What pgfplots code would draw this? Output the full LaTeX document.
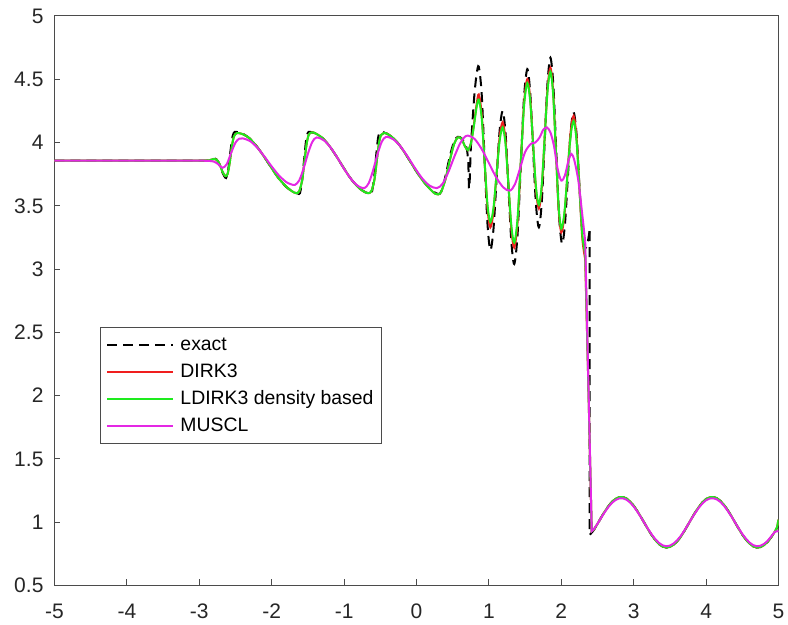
\documentclass[border=0pt]{standalone}
\usepackage{pgfplots}
\pgfplotsset{compat=1.18}
\usepackage{fontspec}
\setmainfont{Liberation Sans}
\definecolor{cred}{RGB}{240,30,30}
\definecolor{cgreen}{RGB}{30,235,30}
\definecolor{cmag}{RGB}{228,40,228}
\definecolor{axgray}{RGB}{75,75,75}
\begin{document}
\begin{tikzpicture}
\path[use as bounding box] (-27.25pt,-19.75pt) rectangle (366.75pt,292.75pt);
\begin{axis}[
  at={(0pt,0pt)}, anchor=south west,
  width=362pt, height=284.75pt, scale only axis,
  xmin=-5, xmax=5, ymin=0.5, ymax=5,
  xtick={-5,-4,...,5}, ytick={0.5,1,...,5},
  tick align=inside, xtick pos=left, ytick pos=left,
  major tick length=3pt,
  axis line style={axgray, line width=0.5pt},
  every tick/.style={axgray, line width=0.5pt},
  ticklabel style={font=\fontsize{10.5}{12}\selectfont, text=black!85},
  /pgf/number format/assume math mode=true,
  yticklabel style={xshift=-2pt},
  xticklabel style={yshift=-5.5pt},
  legend cell align=left,
  legend style={at={(0.0628,0.4534)}, anchor=north west, draw=axgray, line width=0.5pt,
    fill=white, font=\fontsize{9.7}{11}\selectfont, inner xsep=3pt, inner ysep=3pt,
    row sep=2pt, nodes={inner sep=1pt, text height=7.2pt, text depth=2.3pt}},
  legend image code/.code={\draw[#1,line width=1pt] (0pt,0pt) -- (33pt,0pt); \path (35pt,0pt);},
]
% exact
\addplot[black, line width=1pt, dash pattern=on 5pt off 3pt, smooth] coordinates {
(-5,3.857)(-4,3.857)(-3.3,3.857)(-3.0,3.857)(-2.92,3.857)(-2.86,3.858)(-2.82,3.865)(-2.78,3.872)(-2.74,3.85)(-2.70,3.79)(-2.66,3.74)(-2.63,3.72)(-2.60,3.79)(-2.57,3.93)(-2.54,4.05)(-2.51,4.085)(-2.46,4.08)(-2.40,4.07)(-2.30,4.03)(-2.20,3.965)(-2.10,3.884)(-2.00,3.797)(-1.90,3.715)(-1.80,3.650)(-1.70,3.610)(-1.64,3.598)(-1.61,3.60)(-1.58,3.70)(-1.55,3.88)(-1.52,4.04)(-1.49,4.085)(-1.44,4.08)(-1.40,4.074)(-1.30,4.036)(-1.20,3.971)(-1.10,3.886)(-1.00,3.794)(-0.90,3.709)(-0.80,3.644)(-0.70,3.606)(-0.65,3.598)(-0.62,3.60)(-0.59,3.70)(-0.56,3.88)(-0.53,4.04)(-0.50,4.085)(-0.45,4.08)(-0.40,4.068)(-0.30,4.024)(-0.20,3.952)(-0.10,3.863)(0.00,3.771)(0.10,3.690)(0.20,3.628)(0.27,3.60)(0.32,3.595)(0.36,3.64)(0.41,3.76)(0.46,3.89)(0.52,4.01)(0.57,4.045)(0.62,4.035)(0.66,4.00)(0.695,3.95)(0.715,3.84)(0.725,3.64)(0.735,3.70)(0.75,3.95)(0.775,4.18)(0.80,4.38)(0.83,4.54)(0.86,4.60)
(0.90,4.388)(0.94,3.875)(0.98,3.362)(1.02,3.15)(1.0625,3.311)(1.105,3.70)(1.1475,4.089)(1.19,4.25)(1.23,4.073)(1.27,3.645)(1.31,3.217)(1.35,3.04)(1.395,3.265)(1.44,3.81)(1.485,4.355)(1.53,4.58)(1.57,4.398)(1.61,3.955)(1.65,3.513)(1.69,3.33)(1.73,3.526)(1.77,4.00)(1.81,4.474)(1.85,4.67)(1.89,4.455)(1.93,3.935)(1.97,3.415)(2.01,3.20)(2.05,3.352)(2.09,3.72)(2.13,4.088)(2.17,4.24)(2.21,4.07)(2.25,3.66)(2.29,3.30)(2.325,3.17)(2.36,3.20)(2.39,3.30)
};
\addplot[black, line width=1pt, dash pattern=on 5pt off 3pt, forget plot] coordinates {
(2.39,3.30)(2.392,0.90)(2.40,0.905)(2.45,0.938)(2.50,0.987)(2.55,1.037)(2.60,1.084)(2.65,1.126)(2.70,1.161)(2.75,1.185)(2.80,1.198)(2.85,1.199)(2.90,1.187)(2.95,1.164)(3.00,1.130)(3.05,1.088)(3.10,1.041)(3.15,0.992)(3.20,0.942)(3.25,0.897)(3.30,0.858)(3.35,0.827)(3.40,0.808)(3.45,0.800)(3.50,0.805)(3.55,0.822)(3.60,0.849)(3.65,0.885)(3.70,0.931)(3.75,0.980)(3.80,1.030)(3.85,1.078)(3.90,1.121)(3.95,1.157)(4.00,1.183)(4.05,1.197)(4.10,1.199)(4.15,1.189)(4.20,1.167)(4.25,1.135)(4.30,1.094)(4.35,1.048)(4.40,0.998)(4.45,0.949)(4.50,0.902)(4.55,0.863)(4.60,0.831)(4.65,0.810)(4.70,0.800)(4.75,0.804)(4.80,0.819)(4.85,0.845)(4.90,0.882)(4.95,0.925)(5.00,0.974)
};
% DIRK3
\addplot[cred, line width=1pt, smooth] coordinates {
(-5,3.857)(-4,3.857)(-3.3,3.857)(-3.0,3.857)(-2.92,3.857)(-2.86,3.86)(-2.80,3.87)(-2.76,3.865)(-2.72,3.83)(-2.68,3.77)(-2.64,3.735)(-2.61,3.75)(-2.58,3.84)(-2.55,3.97)(-2.52,4.05)(-2.48,4.075)(-2.42,4.07)(-2.36,4.055)(-2.30,4.03)(-2.20,3.965)(-2.10,3.884)(-2.00,3.797)(-1.90,3.715)(-1.80,3.652)(-1.72,3.615)(-1.66,3.60)(-1.62,3.615)(-1.58,3.70)(-1.55,3.84)(-1.52,3.98)(-1.49,4.06)(-1.45,4.08)(-1.40,4.074)(-1.30,4.036)(-1.20,3.971)(-1.10,3.886)(-1.00,3.794)(-0.90,3.709)(-0.80,3.644)(-0.72,3.61)(-0.66,3.60)(-0.62,3.62)(-0.58,3.71)(-0.55,3.85)(-0.52,3.99)(-0.49,4.06)(-0.45,4.075)(-0.40,4.068)(-0.30,4.024)(-0.20,3.952)(-0.10,3.863)(0.00,3.771)(0.10,3.690)(0.20,3.625)(0.26,3.595)(0.30,3.59)(0.34,3.61)(0.40,3.71)(0.46,3.86)(0.52,3.99)(0.57,4.04)(0.62,4.03)(0.67,3.97)(0.71,3.94)(0.75,3.99)(0.79,4.13)(0.83,4.30)(0.86,4.38)
(0.90,4.227)(0.94,3.855)(0.98,3.483)(1.02,3.33)(1.0625,3.451)(1.105,3.745)(1.1475,4.039)(1.19,4.16)(1.23,4.015)(1.27,3.665)(1.31,3.315)(1.35,3.17)(1.395,3.364)(1.44,3.835)(1.485,4.306)(1.53,4.50)(1.57,4.351)(1.61,3.99)(1.65,3.629)(1.69,3.48)(1.73,3.642)(1.77,4.035)(1.81,4.428)(1.85,4.59)(1.8875,4.400)(1.925,3.94)(1.9625,3.480)(2.00,3.29)(2.0425,3.424)(2.085,3.75)(2.1275,4.076)(2.17,4.21)(2.21,4.045)(2.25,3.645)(2.29,3.245)(2.33,3.08)
};
\addplot[cred, line width=1pt, forget plot] coordinates {
(2.33,3.08)(2.375,2.05)(2.42,0.93)(2.45,0.942)(2.50,0.987)(2.55,1.037)(2.60,1.084)(2.65,1.126)(2.70,1.161)(2.75,1.185)(2.80,1.198)(2.85,1.199)(2.90,1.187)(2.95,1.164)(3.00,1.130)(3.05,1.088)(3.10,1.041)(3.15,0.992)(3.20,0.942)(3.25,0.897)(3.30,0.858)(3.35,0.827)(3.40,0.808)(3.45,0.800)(3.50,0.805)(3.55,0.822)(3.60,0.849)(3.65,0.885)(3.70,0.931)(3.75,0.980)(3.80,1.030)(3.85,1.078)(3.90,1.121)(3.95,1.157)(4.00,1.183)(4.05,1.197)(4.10,1.199)(4.15,1.189)(4.20,1.167)(4.25,1.135)(4.30,1.094)(4.35,1.048)(4.40,0.998)(4.45,0.949)(4.50,0.902)(4.55,0.863)(4.60,0.831)(4.65,0.810)(4.70,0.800)(4.75,0.804)(4.80,0.819)(4.85,0.845)(4.90,0.882)(4.95,0.925)(4.98,0.96)(5.00,1.02)
};
% LDIRK3
\addplot[cgreen, line width=1pt, smooth] coordinates {
(-5,3.857)(-4,3.857)(-3.3,3.857)(-3.0,3.857)(-2.92,3.857)(-2.86,3.86)(-2.80,3.87)(-2.76,3.865)(-2.72,3.83)(-2.68,3.77)(-2.64,3.735)(-2.61,3.75)(-2.58,3.84)(-2.55,3.97)(-2.52,4.05)(-2.48,4.075)(-2.42,4.07)(-2.36,4.055)(-2.30,4.03)(-2.20,3.965)(-2.10,3.884)(-2.00,3.797)(-1.90,3.715)(-1.80,3.652)(-1.72,3.615)(-1.66,3.60)(-1.62,3.615)(-1.58,3.70)(-1.55,3.84)(-1.52,3.98)(-1.49,4.06)(-1.45,4.08)(-1.40,4.074)(-1.30,4.036)(-1.20,3.971)(-1.10,3.886)(-1.00,3.794)(-0.90,3.709)(-0.80,3.644)(-0.72,3.61)(-0.66,3.60)(-0.62,3.62)(-0.58,3.71)(-0.55,3.85)(-0.52,3.99)(-0.49,4.06)(-0.45,4.075)(-0.40,4.068)(-0.30,4.024)(-0.20,3.952)(-0.10,3.863)(0.00,3.771)(0.10,3.690)(0.20,3.625)(0.26,3.595)(0.30,3.59)(0.34,3.61)(0.40,3.71)(0.46,3.86)(0.52,3.99)(0.57,4.04)(0.62,4.03)(0.67,3.97)(0.71,3.94)(0.75,3.99)(0.79,4.12)(0.83,4.28)(0.86,4.34)
(0.90,4.198)(0.94,3.855)(0.98,3.512)(1.02,3.37)(1.0625,3.480)(1.105,3.745)(1.1475,4.010)(1.19,4.12)(1.23,3.987)(1.27,3.665)(1.31,3.343)(1.35,3.21)(1.395,3.394)(1.44,3.84)(1.485,4.286)(1.53,4.47)(1.57,4.330)(1.61,3.99)(1.65,3.650)(1.69,3.51)(1.73,3.663)(1.77,4.035)(1.81,4.407)(1.85,4.56)(1.8875,4.379)(1.925,3.94)(1.9625,3.501)(2.00,3.32)(2.0425,3.444)(2.085,3.745)(2.1275,4.046)(2.17,4.17)(2.21,4.017)(2.25,3.645)(2.29,3.273)(2.33,3.12)
};
\addplot[cgreen, line width=1pt, forget plot] coordinates {
(2.33,3.12)(2.375,2.05)(2.42,0.93)(2.45,0.942)(2.50,0.987)(2.55,1.037)(2.60,1.084)(2.65,1.126)(2.70,1.161)(2.75,1.185)(2.80,1.198)(2.85,1.199)(2.90,1.187)(2.95,1.164)(3.00,1.130)(3.05,1.088)(3.10,1.041)(3.15,0.992)(3.20,0.942)(3.25,0.897)(3.30,0.858)(3.35,0.827)(3.40,0.808)(3.45,0.800)(3.50,0.805)(3.55,0.822)(3.60,0.849)(3.65,0.885)(3.70,0.931)(3.75,0.980)(3.80,1.030)(3.85,1.078)(3.90,1.121)(3.95,1.157)(4.00,1.183)(4.05,1.197)(4.10,1.199)(4.15,1.189)(4.20,1.167)(4.25,1.135)(4.30,1.094)(4.35,1.048)(4.40,0.998)(4.45,0.949)(4.50,0.902)(4.55,0.863)(4.60,0.831)(4.65,0.810)(4.70,0.800)(4.75,0.804)(4.80,0.819)(4.85,0.845)(4.90,0.882)(4.95,0.925)(4.98,0.96)(5.00,1.02)
};
% MUSCL
\addplot[cmag, line width=1pt, smooth] coordinates {
(-5,3.857)(-4,3.857)(-3.3,3.857)(-3.0,3.857)(-2.92,3.856)(-2.86,3.855)(-2.80,3.85)(-2.74,3.83)(-2.68,3.80)(-2.62,3.83)(-2.56,3.92)(-2.50,4.00)(-2.45,4.03)(-2.40,4.033)(-2.30,4.012)(-2.20,3.960)(-2.10,3.889)(-2.00,3.811)(-1.90,3.740)(-1.80,3.688)(-1.74,3.672)(-1.68,3.665)(-1.62,3.701)(-1.56,3.794)(-1.50,3.911)(-1.44,4.004)(-1.38,4.04)(-1.28,4.018)(-1.18,3.956)(-1.08,3.868)(-0.98,3.774)(-0.88,3.695)(-0.80,3.654)(-0.72,3.64)(-0.66,3.679)(-0.60,3.780)(-0.54,3.905)(-0.48,4.006)(-0.42,4.045)(-0.32,4.025)(-0.22,3.969)(-0.12,3.887)(-0.02,3.797)(0.08,3.716)(0.18,3.660)(0.28,3.64)(0.36,3.674)(0.44,3.767)(0.52,3.885)(0.60,3.991)(0.66,4.041)(0.71,4.055)(0.80,4.030)(0.90,3.949)(1.00,3.838)(1.10,3.726)(1.20,3.645)(1.29,3.62)(1.36,3.671)(1.43,3.795)(1.50,3.925)(1.58,3.99)(1.64,4.00)(1.70,4.04)(1.75,4.10)(1.80,4.12)(1.85,4.08)(1.90,3.97)(1.95,3.79)(2.00,3.70)(2.05,3.74)(2.10,3.86)(2.14,3.91)(2.18,3.86)(2.235,3.70)(2.28,3.48)(2.33,3.22)
};
\addplot[cmag, line width=1pt, forget plot] coordinates {
(2.33,3.22)(2.375,2.08)(2.42,0.93)(2.45,0.945)(2.50,0.988)(2.55,1.035)(2.60,1.080)(2.65,1.120)(2.70,1.153)(2.75,1.176)(2.80,1.188)(2.85,1.189)(2.90,1.178)(2.95,1.156)(3.00,1.124)(3.05,1.084)(3.10,1.039)(3.15,0.992)(3.20,0.945)(3.25,0.902)(3.30,0.865)(3.35,0.836)(3.40,0.817)(3.45,0.810)(3.50,0.815)(3.55,0.831)(3.60,0.857)(3.65,0.891)(3.70,0.934)(3.75,0.981)(3.80,1.029)(3.85,1.074)(3.90,1.115)(3.95,1.149)(4.00,1.174)(4.05,1.187)(4.10,1.189)(4.15,1.180)(4.20,1.159)(4.25,1.128)(4.30,1.089)(4.35,1.046)(4.40,0.998)(4.45,0.952)(4.50,0.907)(4.55,0.870)(4.60,0.839)(4.65,0.819)(4.70,0.810)(4.75,0.814)(4.80,0.828)(4.85,0.853)(4.90,0.888)(4.95,0.925)(5.00,0.93)
};
\legend{exact,DIRK3,LDIRK3 density based,MUSCL}
\end{axis}
\end{tikzpicture}
\end{document}
